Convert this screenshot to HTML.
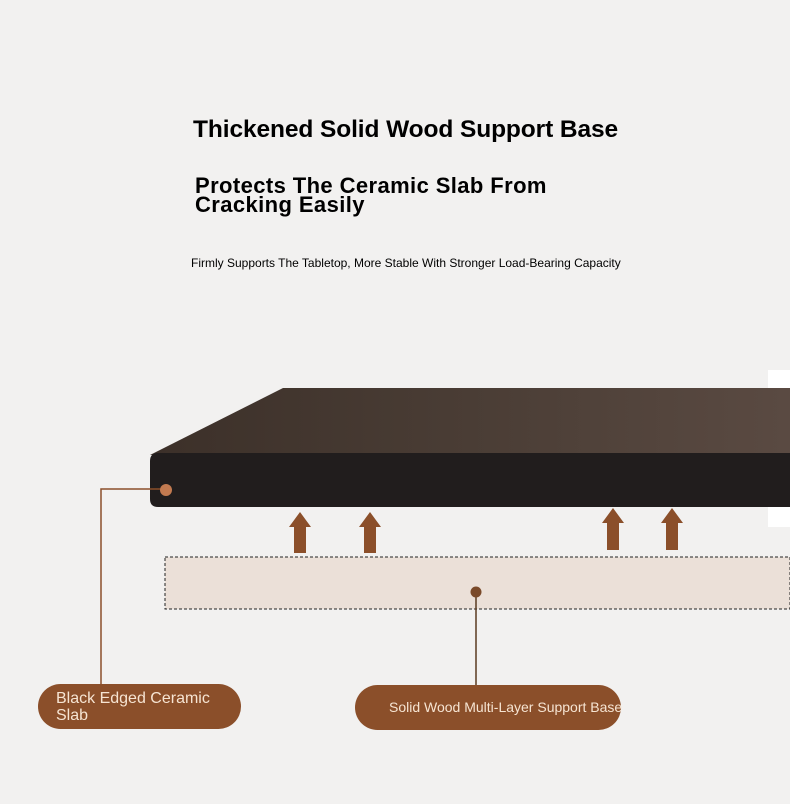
<!DOCTYPE html>
<html><head><meta charset="utf-8"><style>
body{margin:0;width:790px;height:804px;background:#f2f1f0;position:relative;overflow:hidden;font-family:"Liberation Sans",sans-serif}
.t{position:absolute;color:#000;font-weight:bold;white-space:nowrap}
.pill{position:absolute;background:#8b4f2a;color:#f6e4d2;border-radius:23px}
</style></head><body>
<div class="t" style="left:193px;top:116px;font-size:24.5px;letter-spacing:-0.1px">Thickened Solid Wood Support Base</div>
<div class="t" style="left:195px;top:176px;font-size:22px;line-height:19px;letter-spacing:0.4px">Protects The Ceramic Slab From<br>Cracking Easily</div>
<div class="t" style="left:191px;top:256px;font-size:12px;font-weight:normal;letter-spacing:0px">Firmly Supports The Tabletop, More Stable With Stronger Load-Bearing Capacity</div>
<svg width="790" height="804" style="position:absolute;left:0;top:0">
<defs><linearGradient id="g" x1="0" x2="1"><stop offset="0" stop-color="#3c3029"/><stop offset="0.5" stop-color="#4a3d35"/><stop offset="1" stop-color="#5a4a42"/></linearGradient></defs>
<rect x="768" y="370" width="22" height="157" fill="#ffffff"/>
<polygon points="150,455 283,388 790,388 790,455" fill="url(#g)"/>
<path d="M158,453 H790 V507 H158 Q150,507 150,499 V461 Q150,453 158,453Z" fill="#211d1d"/>
<rect x="165" y="557" width="625" height="52" fill="#ebe0d8" stroke="#222" stroke-dasharray="3,2" stroke-width="1"/>
<g fill="#8b4f2a">
<polygon points="300,512 311,527 306,527 306,553 294,553 294,527 289,527"/>
<polygon points="370,512 381,527 376,527 376,553 364,553 364,527 359,527"/>
<polygon points="613,508 624,523 619,523 619,550 607,550 607,523 602,523"/>
<polygon points="672,508 683,523 678,523 678,550 666,550 666,523 661,523"/>
</g>
<polyline points="166,489 101,489 101,686" fill="none" stroke="#8b4f2a" stroke-width="1.5"/>
<circle cx="166" cy="490" r="6" fill="#c27a50"/>
<line x1="476" y1="592" x2="476" y2="686" stroke="#5a3a20" stroke-width="1.5"/>
<circle cx="476" cy="592" r="5.5" fill="#7a4a2a"/>
</svg>
<div class="pill" style="left:38px;top:684px;width:203px;height:45px;font-size:16px;line-height:17px;box-sizing:border-box;padding:6px 0 0 18px">Black Edged Ceramic<br>Slab</div>
<div class="pill" style="left:355px;top:685px;width:266px;height:45px;font-size:14px;line-height:45px;padding-left:34px;box-sizing:border-box;white-space:nowrap">Solid Wood Multi-Layer Support Base</div>
</body></html>
